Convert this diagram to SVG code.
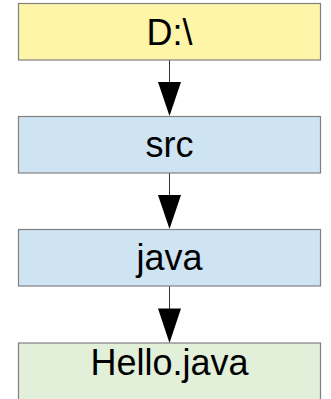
<svg xmlns="http://www.w3.org/2000/svg" width="331" height="399" viewBox="0 0 331 399">
  <style>
    .box { stroke: #808080; stroke-width: 1.2; }
    .label { font-family: "Liberation Sans", Arial, sans-serif; font-size: 36px; fill: #000; text-anchor: middle; }
    .edge { stroke: #333; stroke-width: 1; fill: none; }
    .head { fill: #000; }
  </style>
  <rect width="331" height="399" fill="#fff"/>
  <g id="connectors">
    <line class="edge" x1="169.5" y1="60" x2="169.5" y2="84"/>
    <polygon class="head" points="158,82 181,82 169.5,116"/>
    <line class="edge" x1="169.5" y1="173" x2="169.5" y2="197"/>
    <polygon class="head" points="158,195 181,195 169.5,229"/>
    <line class="edge" x1="169.5" y1="286" x2="169.5" y2="310"/>
    <polygon class="head" points="158,308.5 181,308.5 169.5,343"/>
  </g>
  <g id="node-drive">
    <rect class="box" x="18.5" y="3.5" width="302" height="56.5" fill="#fff5a8"/>
    <text class="label" x="169.5" y="44.5">D:\</text>
  </g>
  <g id="node-src">
    <rect class="box" x="18.5" y="116.5" width="302" height="56.5" fill="#cfe4f3"/>
    <text class="label" x="169.5" y="156.5">src</text>
  </g>
  <g id="node-java">
    <rect class="box" x="18.5" y="229.5" width="302" height="56.5" fill="#cfe4f3"/>
    <text class="label" x="169.5" y="269.5">java</text>
  </g>
  <g id="node-hello">
    <rect class="box" x="18.5" y="343" width="302" height="60" fill="#e2efd9"/>
    <text class="label" x="169.5" y="375">Hello.java</text>
  </g>
</svg>
